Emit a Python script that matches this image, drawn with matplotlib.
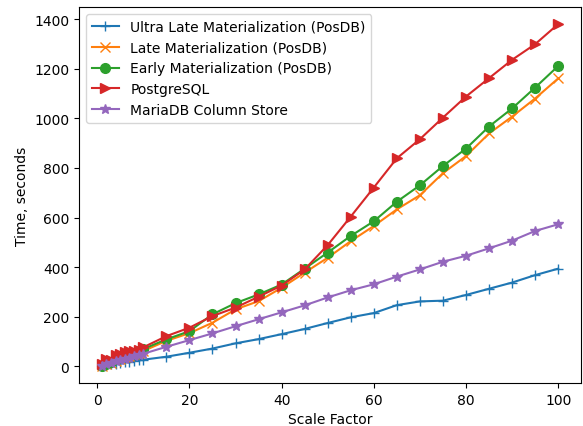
import matplotlib
matplotlib.use("Agg")
import matplotlib.pyplot as plt

scale = [1, 2, 3, 4, 5, 6, 7, 8, 9, 10, 15, 20, 25, 30, 35, 40, 45, 50,
         55, 60, 65, 70, 75, 80, 85, 90, 95, 100]

ultra_late = [2, 5, 8, 11, 14, 17, 19, 22, 25, 27, 39, 55, 72, 93, 110, 130,
              151, 175, 198, 215, 247, 262, 265, 288, 313, 338, 368, 394]
late = [3, 9, 15, 22, 30, 36, 42, 48, 55, 62, 103, 134, 176, 230, 263, 317,
        378, 438, 505, 566, 633, 690, 779, 848, 939, 1007, 1080, 1161]
early = [3, 10, 17, 35, 38, 44, 50, 55, 62, 70, 109, 142, 210, 255, 290, 330,
         394, 459, 526, 585, 664, 730, 808, 878, 967, 1040, 1124, 1211]
postgres = [8, 30, 25, 45, 52, 58, 62, 62, 68, 77, 122, 156, 203, 237, 281, 326,
            391, 489, 604, 721, 839, 916, 1003, 1088, 1162, 1236, 1299, 1380]
mariadb = [2, 8, 14, 20, 25, 30, 35, 40, 46, 51, 79, 106, 133, 162, 190, 218,
           246, 278, 307, 331, 362, 391, 422, 446, 476, 507, 546, 573]

series = [
    ("Ultra Late Materialization (PosDB)", ultra_late, "+"),
    ("Late Materialization (PosDB)", late, "x"),
    ("Early Materialization (PosDB)", early, "o"),
    ("PostgreSQL", postgres, ">"),
    ("MariaDB Column Store", mariadb, "*"),
]

fig = plt.figure(figsize=(5.83, 4.27), dpi=100)
ax = fig.add_axes([79 / 583, 1 - 384 / 427, (581 - 79) / 583, (384 - 8) / 427])
for label, vals, m in series:
    ax.plot(scale, vals, marker=m, markersize=7, label=label)
ax.set_xlabel("Scale Factor")
ax.set_ylabel("Time, seconds")
ax.legend(loc="upper left")
fig.savefig("out.png", dpi=100)
